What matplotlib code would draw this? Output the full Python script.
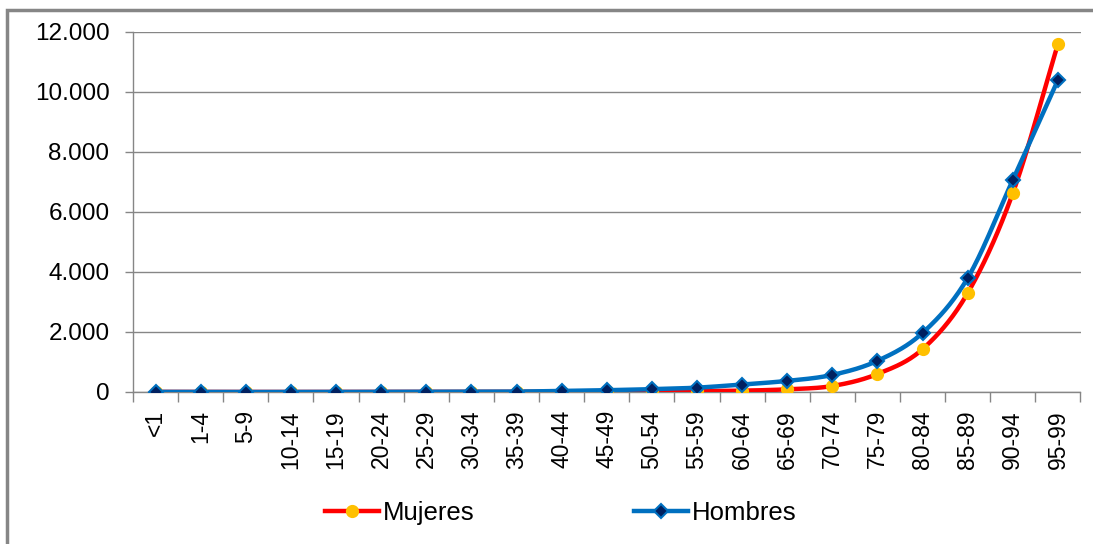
import numpy as np
import matplotlib
matplotlib.use("Agg")
import matplotlib.pyplot as plt
from matplotlib.patches import Rectangle
from matplotlib.ticker import FuncFormatter, MultipleLocator

# ===== datos =====
grupos = ["<1", "1-4", "5-9", "10-14", "15-19", "20-24", "25-29", "30-34",
          "35-39", "40-44", "45-49", "50-54", "55-59", "60-64", "65-69",
          "70-74", "75-79", "80-84", "85-89", "90-94", "95-99"]
mujeres = [3, 1, 1, 1, 2, 2, 3, 4, 6, 10, 18, 30, 30, 45, 90,
           200, 600, 1430, 3300, 6630, 11600]
hombres = [4, 1, 1, 1, 3, 5, 7, 10, 15, 35, 60, 95, 145, 250, 370,
           570, 1040, 1970, 3800, 7070, 10400]

ROJO = "#FF0000"
ORO = "#FFC000"
AZUL = "#0070C0"
MARINO = "#002060"
GRIS = "#868686"


def suavizar(x, y, n=30, t=0.5):
    """curva tipo Catmull-Rom, como las lineas suavizadas de Excel"""
    x = np.asarray(x, float)
    y = np.asarray(y, float)
    px = np.concatenate([[2 * x[0] - x[1]], x, [2 * x[-1] - x[-2]]])
    py = np.concatenate([[2 * y[0] - y[1]], y, [2 * y[-1] - y[-2]]])
    xs, ys = [], []
    s = np.linspace(0, 1, n, endpoint=False)
    for i in range(1, len(px) - 2):
        for p, out in ((px, xs), (py, ys)):
            m1 = t * (p[i + 1] - p[i - 1])
            m2 = t * (p[i + 2] - p[i])
            h00 = 2 * s**3 - 3 * s**2 + 1
            h10 = s**3 - 2 * s**2 + s
            h01 = -2 * s**3 + 3 * s**2
            h11 = s**3 - s**2
            out.extend(h00 * p[i] + h10 * m1 + h01 * p[i + 1] + h11 * m2)
    xs.append(x[-1])
    ys.append(y[-1])
    return np.array(xs), np.array(ys)


plt.rcParams["font.family"] = ["Liberation Sans", "DejaVu Sans"]

fig = plt.figure(figsize=(10.93, 5.44), dpi=100)
W, H = 1093, 544
ax = fig.add_axes([133 / W, 1 - 392 / H, (1080.5 - 133) / W, (392 - 32) / H])

x = np.arange(len(grupos))
for vals, col, mk, mfc, mec, ms, lab in (
        (mujeres, ROJO, "o", ORO, ORO, 8, "Mujeres"),
        (hombres, AZUL, "D", MARINO, AZUL, 7, "Hombres")):
    sx, sy = suavizar(x, vals)
    ax.plot(sx, sy, color=col, lw=3.2, solid_capstyle="round", zorder=3)
    ax.plot(x, vals, ls="none", marker=mk, ms=ms, mfc=mfc, mec=mec,
            mew=1.5, zorder=4)
    ax.plot([], [], color=col, lw=3.2, marker=mk, ms=ms, mfc=mfc, mec=mec,
            mew=1.5, label=lab)

ax.set_xlim(-0.5, len(grupos) - 0.5)
ax.set_ylim(0, 12000)
ax.yaxis.set_major_locator(MultipleLocator(2000))
ax.yaxis.set_major_formatter(FuncFormatter(lambda v, p: f"{int(v):,}".replace(",", ".")))
ax.grid(axis="y", color=GRIS, lw=1)
ax.set_axisbelow(True)

ax.set_xticks(x)
ax.set_xticklabels(grupos, rotation=90)
ax.set_xticks(np.arange(-0.5, len(grupos)), minor=True)
ax.tick_params(axis="x", which="major", length=0, pad=13, labelsize=16.5)
ax.tick_params(axis="x", which="minor", length=7, color=GRIS, width=1)
ax.tick_params(axis="y", length=6, color=GRIS, width=1, labelsize=17.5, pad=11)

for s in ("top", "right"):
    ax.spines[s].set_visible(False)
for s in ("left", "bottom"):
    ax.spines[s].set_color(GRIS)
    ax.spines[s].set_linewidth(1)

leg = fig.legend(loc="center", bbox_to_anchor=(561 / W, 1 - 513 / H), ncol=2,
                 frameon=False, fontsize=18.5, handlelength=2.1,
                 handletextpad=0.15, columnspacing=6.2)

# marco exterior
fig.add_artist(Rectangle((7 / W, -0.1), 1.2, 1 - 10 / H + 0.1,
                         transform=fig.transFigure, fill=False,
                         edgecolor=GRIS, lw=2.5))

fig.savefig("out.png", dpi=100)
